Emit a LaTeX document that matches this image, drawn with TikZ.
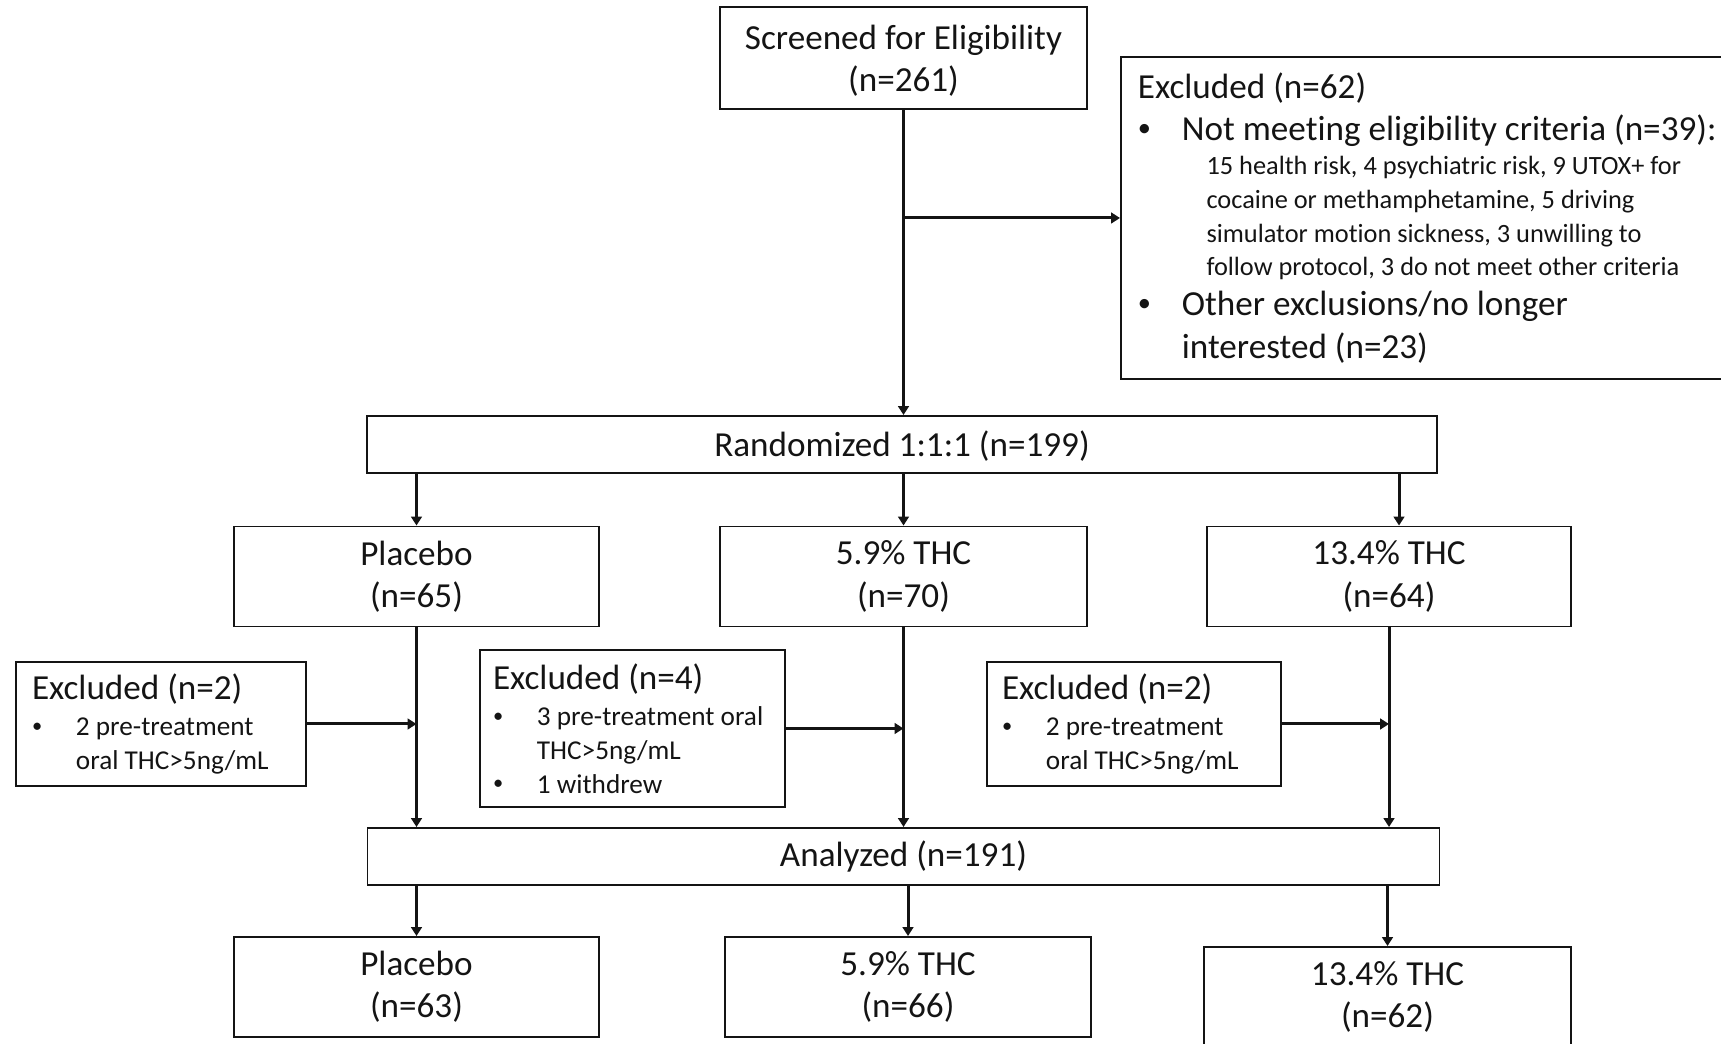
\documentclass[tikz,border=0pt]{standalone}
\usepackage{fontspec}
\setmainfont{Carlito}[Ligatures=NoCommon]
\usetikzlibrary{arrows.meta, calc, positioning}
\definecolor{cfink}{HTML}{141414}
\tikzset{
  box/.style={rectangle, draw=cfink, line width=1.1pt, text=cfink, inner sep=0pt,
    font=\fontsize{20}{24}\selectfont, align=center},
  arm/.style={box, minimum width=7.3cm, minimum height=2cm},
  bar/.style={box, minimum width=21.4cm, minimum height=1.14cm},
  exbox/.style={box, align=left, inner xsep=0.3cm, minimum height=2.48cm,
    execute at begin node={\setlength{\parindent}{0pt}\spaceskip=0pt\xspaceskip=0pt}},
  flow/.style={-{Triangle[length=5pt, width=6pt]}, draw=cfink, line width=1.7pt},
}
\newcommand{\bul}{\makebox[25pt][l]{\raisebox{0.12em}{\scalebox{0.75}{\textbullet}}}}
\newcommand{\sm}{\fontsize{15.5}{19.2}\selectfont}

\begin{document}
\begin{tikzpicture}
\useasboundingbox (0,0) rectangle (34.42,20.88);

% ---- screening and the first exclusion
\node[box, minimum width=7.34cm, minimum height=2.04cm] (screen) at (18.07,19.72)
  {\rule{0pt}{17pt}Screened for Eligibility\\(n=261)};
\node[exbox, text width=12cm, inner xsep=0.34cm, minimum height=6.44cm, anchor=west]
  (exScreen) at (22.40,16.52) {%
  Excluded (n=62)\par
  \bul Not meeting eligibility criteria (n=39):\par
  {\fontsize{15}{19.2}\selectfont\leftskip=39pt
   15 health risk, 4 psychiatric risk, 9 UTOX+ for\par
   cocaine or methamphetamine, 5 driving\par
   simulator motion sickness, 3 unwilling to\par
   follow protocol, 3 do not meet other criteria\par}
  {\fontsize{20}{22.7}\selectfont\bul Other exclusions/no longer\par}
  {\leftskip=25pt interested (n=23)\par}};

\node[bar] (rand) at (18.04,11.99) {\rule{0pt}{17pt}Randomized 1:1:1 (n=199)};
\draw[flow] (screen.south) -- (screen.south |- rand.north);
\draw[flow] (screen.south |- exScreen.west) -- (exScreen.west);

% ---- arms
\node[arm] (armP) at (8.33,9.35) {Placebo\\(n=65)};
\node[arm, minimum width=7.34cm] (armL) at (18.07,9.35) {5.9\% THC\\(n=70)};
\node[arm, minimum width=7.28cm] (armH) at (27.78,9.35) {13.4\% THC\\(n=64)};
\draw[flow] (rand.south -| armP.north) -- (armP.north);
\draw[flow] (rand.south -| armL.north) -- (armL.north);
\draw[flow] ([xshift=2mm]rand.south -| armH.north) -- ([xshift=2mm]armH.north);

% ---- exclusions after randomization
\node[exbox, text width=5.16cm, inner xsep=0.32cm] (exP) at (3.22,6.40) {%
  Excluded (n=2)\par
  {\sm\vspace{1.4pt}\bul 2 pre-treatment\par
   \leftskip=25pt oral THC>5ng/mL\par}};
\node[exbox, text width=5.58cm, inner xsep=0.26cm, minimum height=3.14cm] (exL) at (12.65,6.31) {%
  Excluded (n=4)\par
  {\sm\vspace{1.4pt}\bul 3 pre-treatment oral\par
   {\leftskip=25pt THC>5ng/mL\par}
   \bul 1 withdrew\par}};
\node[exbox, text width=5.28cm, inner xsep=0.3cm] (exH) at (22.68,6.40) {%
  Excluded (n=2)\par
  {\sm\vspace{1.4pt}\bul 2 pre-treatment\par
   \leftskip=25pt oral THC>5ng/mL\par}};

\node[bar, minimum width=21.44cm] (anal) at (18.07,3.75) {Analyzed (n=191)};
\foreach \a in {armP, armL, armH} {
  \draw[flow] (\a.south) -- (\a.south |- anal.north);
}
\foreach \e/\a in {exP/armP, exL/armL, exH/armH} {
  \draw[flow] (\e.east) -- (\e.east -| \a.south);
}

% ---- analyzed per arm
\node[arm] (finP) at (8.33,1.14) {Placebo\\(n=63)};
\node[arm, minimum width=7.32cm] (finL) at (18.16,1.14) {5.9\% THC\\(n=66)};
\node[arm, minimum width=7.34cm] (finH) at (27.75,0.94) {13.4\% THC\\(n=62)};
\foreach \f in {finP, finL, finH} {
  \draw[flow] (anal.south -| \f.north) -- (\f.north);
}

\end{tikzpicture}
\end{document}
